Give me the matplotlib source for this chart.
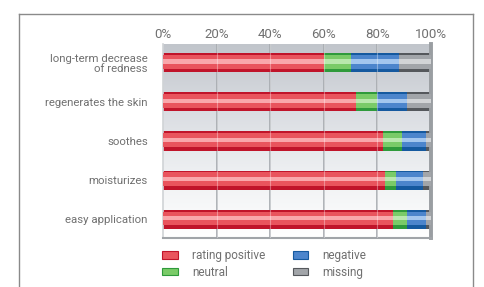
import numpy as np
import matplotlib
matplotlib.use('Agg')
import matplotlib.pyplot as plt
from matplotlib.colors import LinearSegmentedColormap
from matplotlib.patches import Patch
from matplotlib.lines import Line2D

plt.rcParams['font.family'] = ['Roboto', 'DejaVu Sans']

# data (share of ratings, %)
categories = ['long-term decrease\nof redness', 'regenerates the skin', 'soothes',
              'moisturizes', 'easy application']
positive = [60, 72, 82, 83, 86]
neutral  = [10, 8, 7, 4, 5]
negative = [18, 11, 9, 10, 7]
missing  = [12, 9, 2, 3, 2]
series_names = ['rating positive', 'neutral', 'negative', 'missing']
tick_vals = [0, 20, 40, 60, 80, 100]

# colours: (main, dark edge, light highlight)
COLS = [('#e9545d', '#c0142a', '#f9a7ab'),
        ('#7acb68', '#2f9a3b', '#b9e8ad'),
        ('#4c85cc', '#15599f', '#a3c6ee'),
        ('#a2a5a9', '#55585c', '#d2d4d6')]
TXT = '#707070'

fig = plt.figure(figsize=(4.85, 2.87), dpi=100, facecolor='white')
ax = fig.add_axes([163/485, 1 - 238/287, 268/485, 194/287])

# outer frame of the figure
for xs, ys in [([19/485, 19/485], [0, 1 - 14/287]),
               ([19/485, 473/485], [1 - 14/287, 1 - 14/287]),
               ([473/485, 473/485], [1 - 14/287, 0])]:
    fig.add_artist(Line2D(xs, ys, color='#8a8a8a', lw=1.0))

# background gradient (gray at top -> white at bottom)
grad = LinearSegmentedColormap.from_list('bg', ['#c1c5cb', '#d9dce1', '#eef0f2', '#ffffff'])
ax.imshow(np.linspace(0, 1, 256).reshape(-1, 1), cmap=grad, aspect='auto',
          extent=(0, 100, 4.48, -0.48), zorder=0)

y = np.arange(len(categories))
for v in tick_vals[1:-1]:
    ax.axvline(v, color='#a8acb1', lw=1.3, zorder=1)

left = np.zeros(len(categories))
h = 0.49
for vals, (c_main, c_dark, c_light) in zip([positive, neutral, negative, missing], COLS):
    vals = np.array(vals, dtype=float)
    ax.barh(y, vals, left=left, height=h, color=c_dark, lw=0, zorder=2)
    ax.barh(y - 0.02, vals, left=left, height=h * 0.72, color=c_main, lw=0, zorder=3)
    ax.barh(y - 0.03, vals, left=left, height=h * 0.22, color=c_light, lw=0, zorder=4)
    left += vals

# faint highlights of the grid over bars
for v in tick_vals[1:-1]:
    ax.axvline(v, color='white', lw=0.8, alpha=0.35, zorder=5)

ax.set_xlim(0, 100)
ax.set_ylim(4.48, -0.48)
ax.xaxis.tick_top()
ax.set_xticks(tick_vals)
ax.set_xticklabels([f'{v}%' for v in tick_vals], fontsize=9.5, color=TXT)
ax.set_yticks(y)
ax.set_yticklabels(categories, fontsize=8.2, color=TXT, linespacing=1.0)
ax.tick_params(length=0, pad=11, axis='y')
ax.tick_params(length=0, pad=2, axis='x')

ax.spines['top'].set_visible(False)
ax.spines['left'].set_color('#d0d3d6')
ax.spines['left'].set_linewidth(1.2)
ax.spines['right'].set_color('#9a9ea2')
ax.spines['right'].set_linewidth(2.8)
ax.spines['bottom'].set_color('#a0a4a8')
ax.spines['bottom'].set_linewidth(1.5)

handles = [Patch(facecolor=c[0], edgecolor=c[1], lw=0.8) for c in COLS]
fig.legend(handles, series_names, loc='upper left', bbox_to_anchor=(162/485, 1 - 249/287),
           ncol=2, frameon=False, fontsize=8.5, labelcolor=TXT, handlelength=1.35,
           handleheight=0.6, handletextpad=1.2, columnspacing=2.3, labelspacing=0.3,
           borderpad=0, borderaxespad=0)

fig.savefig('out.png', dpi=100, facecolor='white')
